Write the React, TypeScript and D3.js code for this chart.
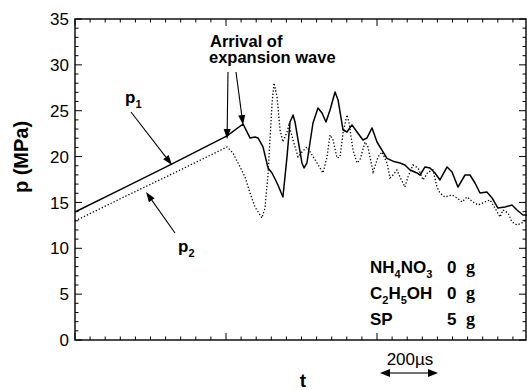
import React from "react";
import * as d3 from "d3";

// time in minor-tick divisions (10 divisions per major tick), pressure in MPa
const p1Time = [0, 3.0, 6.3, 10.07, 11.13, 11.59, 11.92, 12.12, 12.45, 12.78, 13.05, 13.44, 13.77, 14.04, 14.24, 14.44, 14.57, 14.77, 15.03, 15.17, 15.36, 15.56, 15.76, 16.09, 16.36, 16.62, 16.89, 17.22, 17.42, 17.75, 18.01, 18.34, 18.68, 19.07, 19.34, 19.67, 20.0, 20.33, 20.66, 21.06, 21.52, 21.85, 22.19, 22.65, 22.85, 23.18, 23.51, 23.84, 24.17, 24.64, 24.97, 25.36, 25.83, 26.16, 26.49, 26.82, 27.28, 27.62, 28.01, 28.48, 28.94, 29.27, 29.67, 29.93];
const p1Values = [13.96, 16.4, 19.1, 22.25, 23.55, 22.03, 22.14, 22.03, 21.05, 18.76, 18.21, 16.9, 15.59, 19.96, 23.77, 24.54, 23.77, 21.81, 19.3, 18.76, 19.3, 21.48, 23.66, 25.3, 24.75, 23.77, 25.08, 27.04, 26.17, 22.9, 22.68, 23.45, 22.68, 21.81, 22.03, 23.12, 21.59, 20.7, 19.8, 19.5, 19.3, 19.08, 18.54, 18.21, 17.99, 18.87, 18.76, 18.21, 17.45, 18.87, 18.32, 16.68, 17.99, 17.99, 17.12, 16.03, 16.14, 15.49, 14.39, 14.5, 14.72, 14.17, 13.63, 13.63];

const p2Time = [0, 3.0, 6.3, 10.07, 10.46, 10.93, 11.26, 11.59, 11.92, 12.38, 12.58, 12.78, 13.05, 13.18, 13.38, 13.58, 13.77, 14.04, 14.17, 14.44, 14.77, 15.03, 15.36, 15.7, 16.03, 16.42, 16.69, 16.89, 17.09, 17.35, 17.55, 17.75, 18.01, 18.15, 18.41, 18.68, 18.87, 19.21, 19.4, 19.74, 20.07, 20.33, 20.66, 20.86, 21.06, 21.32, 21.52, 21.85, 22.05, 22.38, 22.72, 23.05, 23.38, 23.71, 23.97, 24.17, 24.5, 24.97, 25.3, 25.63, 25.96, 26.36, 26.69, 27.15, 27.48, 27.81, 28.15, 28.34, 28.68, 28.94, 29.27, 29.6, 29.8];
const p2Values = [12.98, 15.4, 18.0, 21.05, 20.39, 18.87, 17.78, 16.03, 14.5, 13.3, 14.39, 17.99, 25.85, 28.03, 26.5, 22.9, 21.59, 22.68, 23.45, 21.81, 19.96, 20.5, 21.05, 20.17, 19.3, 18.21, 19.96, 22.36, 21.81, 19.85, 19.96, 22.57, 24.54, 23.66, 20.72, 19.3, 19.63, 21.59, 21.05, 18.32, 19.96, 20.5, 19.3, 17.67, 17.99, 18.54, 17.78, 16.68, 17.78, 19.08, 18.76, 17.45, 18.32, 18.54, 16.68, 16.03, 15.59, 15.81, 15.49, 15.05, 15.59, 15.05, 14.72, 15.05, 15.27, 14.39, 13.41, 14.18, 13.85, 12.87, 12.54, 12.76, 13.09];

const yMajorTicks = [0, 5, 10, 15, 20, 25, 30, 35];
const legendNames = [
  [["NH", false], ["4", true], ["NO", false], ["3", true]],
  [["C", false], ["2", true], ["H", false], ["5", true], ["OH", false]],
  [["SP", false]],
] as [string, boolean][][];
const legendAmounts = ["0", "0", "5"];

const W = 527, H = 390;
const M = { left: 75, right: 526, top: 19, bottom: 340 };
const SANS = "Arial, 'Liberation Sans', Helvetica, sans-serif";

function Arrow({ x1, y1, x2, y2, len = 10, hw = 3.5 }: any) {
  const a = Math.atan2(y2 - y1, x2 - x1);
  const bx = x2 - len * Math.cos(a), by = y2 - len * Math.sin(a);
  const px = -Math.sin(a) * hw, py = Math.cos(a) * hw;
  return (
    <g>
      <line x1={x1} y1={y1} x2={bx} y2={by} stroke="#000" strokeWidth={1.1} />
      <path d={`M${x2},${y2}L${bx + px},${by + py}L${bx - px},${by - py}Z`} fill="#000" />
    </g>
  );
}

export default function App() {
  const x = d3.scaleLinear().domain([0, 30]).range([M.left, 528]);
  const y = d3.scaleLinear().domain([0, 35]).range([M.bottom, M.top]);
  const line = d3.line<[number, number]>().x(d => x(d[0])).y(d => y(d[1]));
  const p1 = p1Time.map((t, i) => [t, p1Values[i]] as [number, number]);
  const p2 = p2Time.map((t, i) => [t, p2Values[i]] as [number, number]);
  const xTicks = d3.range(0, 31);
  const yTicks = d3.range(0, 36);

  return (
    <svg width={W} height={H} style={{ position: "absolute", left: 0, top: 0, background: "#fff" }} fontFamily={SANS}>
      <rect x={0} y={0} width={W} height={H} fill="#fff" />
      {/* frame */}
      <rect x={M.left} y={M.top} width={M.right - M.left} height={M.bottom - M.top} fill="none" stroke="#000" strokeWidth={1.4} />
      {/* x ticks top and bottom */}
      {xTicks.map(t => {
        const len = t % 10 === 0 ? 7 : 3.5;
        const xx = x(t);
        if (xx > M.right) return null;
        return (
          <g key={"xt" + t}>
            <line x1={xx} x2={xx} y1={M.bottom} y2={M.bottom - len} stroke="#000" strokeWidth={1} />
            <line x1={xx} x2={xx} y1={M.top} y2={M.top + len} stroke="#000" strokeWidth={1} />
          </g>
        );
      })}
      {/* y ticks left and right */}
      {yTicks.map(t => {
        const len = t % 5 === 0 ? 7 : 3.5;
        const yy = y(t);
        return (
          <g key={"yt" + t}>
            <line x1={M.left} x2={M.left + len} y1={yy} y2={yy} stroke="#000" strokeWidth={1} />
            <line x1={M.right} x2={M.right - len} y1={yy} y2={yy} stroke="#000" strokeWidth={1} />
          </g>
        );
      })}
      {yMajorTicks.map(t => (
        <text key={"yl" + t} x={69} y={y(t)} dy="0.36em" textAnchor="end" fontSize={17}>{t}</text>
      ))}
      <text transform={`translate(28,157) rotate(-90)`} textAnchor="middle" fontSize={20} fontWeight="bold">p (MPa)</text>
      <text x={303} y={387} textAnchor="middle" fontSize={19} fontWeight="bold">t</text>

      {/* series */}
      <path d={line(p2) || ""} fill="none" stroke="#000" strokeWidth={1.3} strokeDasharray="1.3 2" />
      <path d={line(p1) || ""} fill="none" stroke="#000" strokeWidth={1.5} strokeLinejoin="round" />

      {/* annotations */}
      <text fontSize={16.5} fontWeight="bold">
        <tspan x={210} y={47}>Arrival of</tspan>
        <tspan x={209} y={63}>expansion wave</tspan>
      </text>
      <Arrow x1={228} y1={72} x2={x(10.07)} y2={y(22.25) + 3} />
      <Arrow x1={236} y1={72} x2={x(11.13)} y2={y(23.55) + 1} />

      <text x={125} y={103} fontSize={17} fontWeight="bold">p<tspan fontSize={11} dy={5}>1</tspan></text>
      <Arrow x1={131} y1={112} x2={172} y2={165} />
      <text x={178} y={252} fontSize={17} fontWeight="bold">p<tspan fontSize={11} dy={5}>2</tspan></text>
      <Arrow x1={175} y1={233} x2={146} y2={192} />

      {/* legend */}
      {legendNames.map((parts, i) => {
        const by = 273 + i * 26;
        return (
          <g key={"lg" + i}>
            <text x={370} y={by} fontSize={17} fontWeight="bold">
              {parts.map(([s, sub], j) => {
                const prevSub = j > 0 && parts[j - 1][1];
                return (
                  <tspan key={j} fontSize={sub ? 11 : 17} dy={sub ? 5 : prevSub ? -5 : 0}>{s}</tspan>
                );
              })}
            </text>
            <text x={447} y={by} fontSize={17} fontWeight="bold">{legendAmounts[i]}</text>
            <text x={466} y={by} fontSize={18} fontWeight="bold" fontFamily="'Liberation Serif', 'Times New Roman', serif">g</text>
          </g>
        );
      })}

      {/* scale bar */}
      <text x={410} y={365} textAnchor="middle" fontSize={17}>200µs</text>
      <Arrow x1={409} y1={373} x2={380} y2={373} len={10} hw={4} />
      <Arrow x1={409} y1={373} x2={438} y2={373} len={10} hw={4} />
    </svg>
  );
}
